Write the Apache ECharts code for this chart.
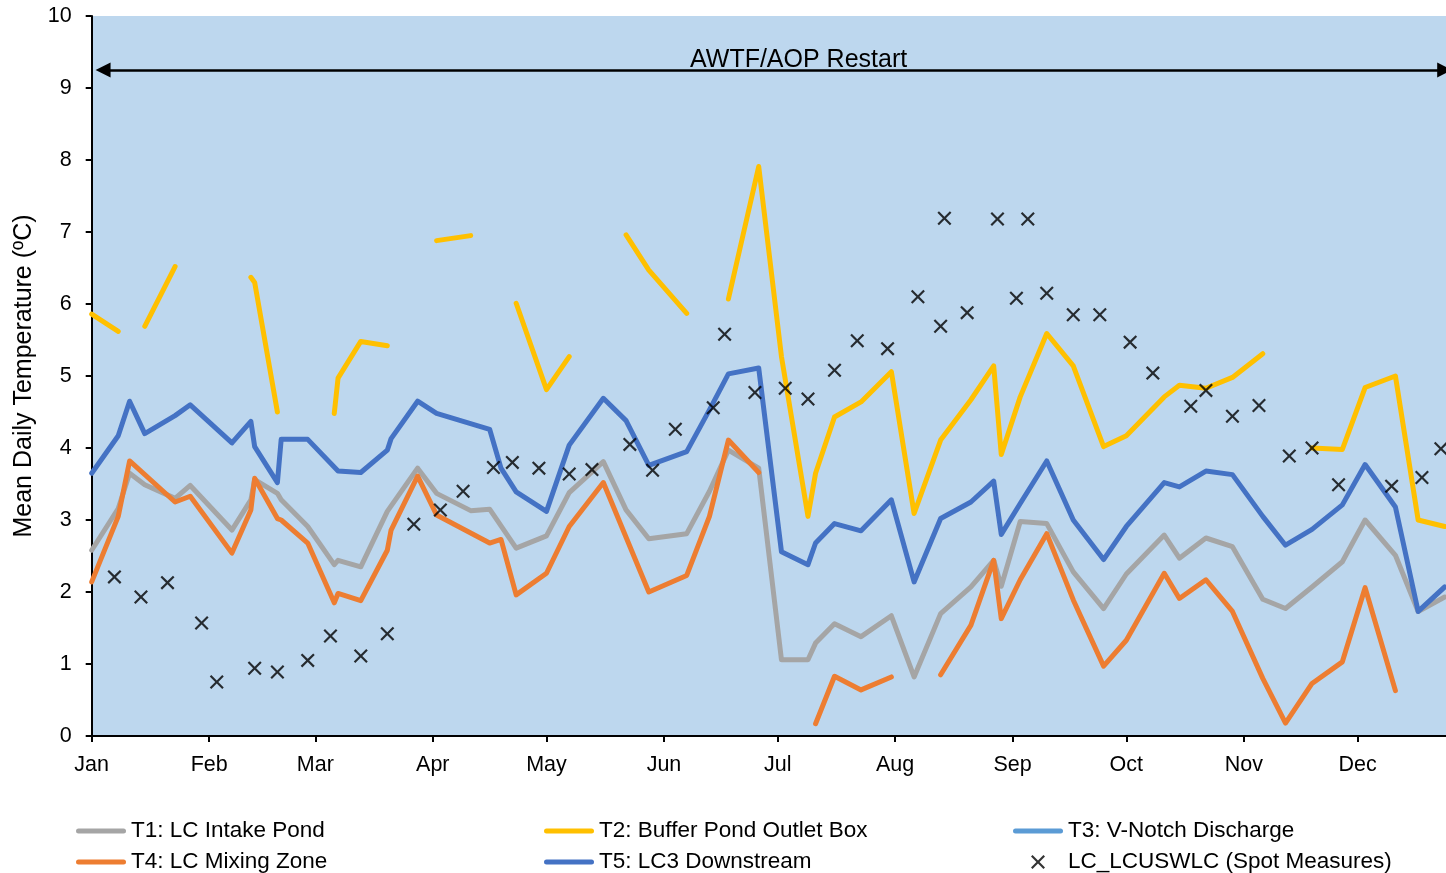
<!DOCTYPE html>
<html>
<head>
<meta charset="utf-8">
<script src="https://cdn.jsdelivr.net/npm/echarts@6/dist/echarts.min.js"></script>
<style>
  html, body { margin: 0; padding: 0; background: #ffffff; }
  #chart { width: 1446px; height: 873px; }
</style>
</head>
<body>
<div id="chart"></div>
<script>
// ---- data -----------------------------------------------------------------
const YEAR = 2022;
const monthLabels = ['Jan', 'Feb', 'Mar', 'Apr', 'May', 'Jun', 'Jul', 'Aug', 'Sep', 'Oct', 'Nov', 'Dec'];

// T1: LC Intake Pond
const t1Dates = ['01-01','01-08','01-11','01-15','01-23','01-27','02-07','02-12','02-13','02-19','02-20','02-27',
  '03-06','03-07','03-13','03-20','03-28','04-02','04-11','04-16','04-23','05-01','05-07','05-16','05-22','05-28',
  '06-07','06-13','06-18','06-26','07-02','07-09','07-11','07-16','07-23','07-31','08-06','08-13','08-21','08-27',
  '08-29','09-03','09-10','09-17','09-25','10-01','10-11','10-15','10-22','10-29','11-06','11-12','11-19','11-27',
  '12-03','12-11','12-17','12-24'];
const t1Values = [2.58, 3.16, 3.65, 3.49, 3.30, 3.48, 2.86, 3.28, 3.56, 3.37, 3.28, 2.91,
  2.38, 2.44, 2.35, 3.12, 3.72, 3.37, 3.13, 3.15, 2.61, 2.78, 3.38, 3.81, 3.14, 2.74,
  2.81, 3.40, 3.97, 3.72, 1.06, 1.06, 1.29, 1.56, 1.38, 1.67, 0.82, 1.70, 2.07, 2.44,
  2.08, 2.98, 2.95, 2.28, 1.77, 2.25, 2.79, 2.47, 2.75, 2.63, 1.90, 1.77, 2.07, 2.42,
  3.00, 2.51, 1.73, 1.93];

// T2: Buffer Pond Outlet Box (null = no reading)
const t2Dates = ['01-01','01-08','01-11','01-15','01-23','01-27','02-12','02-13','02-19','02-27','03-06','03-07',
  '03-13','03-20','03-28','04-02','04-11','04-16','04-23','05-01','05-07','05-16','05-22','05-28','06-07','06-13',
  '06-18','06-26','07-02','07-09','07-11','07-16','07-23','07-31','08-06','08-13','08-21','08-27','08-29','09-03',
  '09-10','09-17','09-25','10-01','10-11','10-15','10-22','10-29','11-06','11-12','11-19','11-27','12-03','12-11',
  '12-17','12-24'];
const t2Values = [5.86, 5.62, null, 5.69, 6.52, null, 6.37, 6.30, 4.50, null, 4.48, 4.97,
  5.48, 5.42, null, 6.88, 6.95, null, 6.01, 4.81, 5.27, null, 6.96, 6.47, 5.87, null,
  6.07, 7.91, 5.27, 3.05, 3.65, 4.43, 4.64, 5.06, 3.09, 4.11, 4.67, 5.14, 3.91, 4.71,
  5.59, 5.14, 4.02, 4.17, 4.71, 4.87, 4.83, 4.98, 5.31, null, 4.00, 3.98, 4.84, 5.00,
  3.00, 2.91];

// T3: V-Notch Discharge (no readings in this period)
const t3Dates = [];
const t3Values = [];

// T4: LC Mixing Zone (null = no reading)
const t4Dates = ['01-01','01-08','01-11','01-23','01-27','02-07','02-12','02-13','02-19','02-20','02-27','03-06',
  '03-07','03-13','03-20','03-21','03-28','04-02','04-16','04-19','04-23','05-01','05-07','05-16','05-28','06-07',
  '06-13','06-18','06-26','07-02','07-11','07-16','07-23','07-31','08-06','08-13','08-21','08-27','08-29','09-03',
  '09-10','09-17','09-25','10-01','10-11','10-15','10-22','10-29','11-06','11-12','11-19','11-27','12-03','12-11'];
const t4Values = [2.14, 3.05, 3.82, 3.25, 3.33, 2.54, 3.14, 3.58, 3.02, 3.00, 2.68, 1.85,
  1.98, 1.88, 2.58, 2.86, 3.61, 3.07, 2.68, 2.73, 1.96, 2.26, 2.91, 3.52, 2.00, 2.23,
  3.05, 4.11, 3.66, null, 0.17, 0.83, 0.64, 0.82, null, 0.85, 1.54, 2.44, 1.63, 2.17,
  2.81, 1.89, 0.97, 1.33, 2.26, 1.91, 2.17, 1.73, 0.80, 0.18, 0.73, 1.03, 2.06, 0.63];

// T5: LC3 Downstream
const t5Dates = ['01-01','01-08','01-11','01-15','01-23','01-27','02-07','02-12','02-13','02-19','02-20','02-27',
  '03-07','03-13','03-20','03-21','03-28','04-02','04-16','04-19','04-23','05-01','05-07','05-16','05-22','05-28',
  '06-07','06-13','06-18','06-26','07-02','07-09','07-11','07-16','07-23','07-31','08-06','08-13','08-21','08-27',
  '08-29','09-03','09-10','09-17','09-25','10-01','10-11','10-15','10-22','10-29','11-06','11-12','11-19','11-27',
  '12-03','12-11','12-17','12-24'];
const t5Values = [3.65, 4.17, 4.65, 4.20, 4.45, 4.60, 4.07, 4.37, 4.02, 3.52, 4.12, 4.12,
  3.68, 3.66, 3.97, 4.13, 4.65, 4.48, 4.26, 3.72, 3.39, 3.12, 4.04, 4.69, 4.38, 3.76,
  3.95, 4.53, 5.03, 5.11, 2.56, 2.38, 2.68, 2.95, 2.85, 3.28, 2.14, 3.02, 3.25, 3.54,
  2.80, 3.23, 3.82, 3.00, 2.45, 2.91, 3.52, 3.46, 3.68, 3.63, 3.05, 2.65, 2.87, 3.21,
  3.77, 3.18, 1.73, 2.07];

// LC_LCUSWLC spot measurements
const spotDates = ['01-07','01-14','01-21','01-30','02-03','02-13','02-19','02-27','03-05','03-13','03-20','03-27',
  '04-03','04-09','04-17','04-22','04-29','05-07','05-13','05-23','05-29','06-04','06-14','06-17','06-25','07-03',
  '07-09','07-16','07-22','07-30','08-07','08-13','08-14','08-20','08-28','09-02','09-05','09-10','09-17','09-24',
  '10-02','10-08','10-18','10-22','10-29','11-05','11-13','11-19','11-26','12-10','12-18','12-23'];
const spotValues = [2.21, 1.93, 2.13, 1.57, 0.75, 0.94, 0.89, 1.05, 1.39, 1.11, 1.42, 2.94,
  3.14, 3.40, 3.73, 3.80, 3.72, 3.64, 3.70, 4.05, 3.69, 4.26, 4.56, 5.58, 4.77, 4.83,
  4.68, 5.08, 5.49, 5.38, 6.10, 5.69, 7.19, 5.88, 7.18, 6.08, 7.18, 6.15, 5.85, 5.85,
  5.47, 5.04, 4.58, 4.80, 4.44, 4.59, 3.89, 4.00, 3.49, 3.47, 3.59, 3.99];

// restart annotation span
const restartStart = '01-04';
const restartEnd = '12-24';
const restartLevel = 9.25;
const restartLabelDate = '07-06';
const restartText = 'AWTF/AOP Restart';

// ---- helpers ----------------------------------------------------------------
function toTime(md) {
  const parts = md.split('-').map(Number);
  return new Date(YEAR, parts[0] - 1, parts[1]).getTime();
}
function pairs(dates, values) {
  return dates.map((d, i) => [toTime(d), values[i] == null ? '-' : values[i]]);
}

const FONT = '"Liberation Sans", Arial, Helvetica, sans-serif';
const BAR_ICON = 'path://M2.5,0H47.5A2.5,2.5,0,0,1,47.5,5H2.5A2.5,2.5,0,0,1,2.5,0Z';
const CROSS_ICON = 'path://M0,1.1L1.1,0L5,3.9L8.9,0L10,1.1L6.1,5L10,8.9L8.9,10L5,6.1L1.1,10L0,8.9L3.9,5Z';

function lineSeries(name, color, dates, values, extra) {
  return Object.assign({
    name: name,
    type: 'line',
    data: pairs(dates, values),
    symbol: 'none',
    showSymbol: false,
    connectNulls: false,
    color: color,
    lineStyle: { color: color, width: 5, cap: 'round', join: 'round' },
    emphasis: { disabled: true },
    silent: true
  }, extra || {});
}

const chart = echarts.init(document.getElementById('chart'), null, { renderer: 'canvas' });

const legendBase = {
  orient: 'vertical',
  padding: 0,
  itemGap: 5,
  itemWidth: 50,
  itemHeight: 5,
  height: 100,
  icon: BAR_ICON,
  selectedMode: false,
  itemStyle: { borderWidth: 0 },
  textStyle: { fontSize: 22.5, color: '#000', fontFamily: FONT, lineHeight: 26 }
};

const option = {
  animation: false,
  backgroundColor: '#ffffff',
  textStyle: { fontFamily: FONT },
  grid: {
    left: 91.7,
    top: 16,
    right: -29,
    bottom: 137,
    show: true,
    backgroundColor: '#BDD7EE',
    borderWidth: 0,
    containLabel: false,
    outerBoundsMode: 'none'
  },
  legend: [
    Object.assign({}, legendBase, { left: 76, top: 818, data: ['T1: LC Intake Pond', 'T4: LC Mixing Zone'] }),
    Object.assign({}, legendBase, { left: 544, top: 818, data: ['T2: Buffer Pond Outlet Box', 'T5: LC3 Downstream'] }),
    Object.assign({}, legendBase, { left: 1013, top: 818, data: ['T3: V-Notch Discharge'] }),
    // the cross icon sits centred in its 50px slot, so the box starts at the glyph
    Object.assign({}, legendBase, { left: 1031, top: 849, itemHeight: 14, icon: CROSS_ICON,
      data: ['LC_LCUSWLC (Spot Measures)'] })
  ],
  xAxis: {
    type: 'time',
    min: toTime('01-01'),
    max: new Date(YEAR + 1, 0, 1).getTime(),
    minInterval: 28 * 864e5,
    maxInterval: 31 * 864e5,
    axisLine: { show: true, lineStyle: { color: '#000', width: 2 } },
    axisTick: { show: true, inside: false, length: 6, lineStyle: { color: '#000', width: 2 } },
    axisLabel: {
      formatter: function (v) { return monthLabels[new Date(v).getMonth()]; },
      fontSize: 21.5,
      color: '#000',
      fontFamily: FONT,
      margin: 18,
      showMaxLabel: false,
      hideOverlap: false
    },
    splitLine: { show: false },
    minorTick: { show: false }
  },
  yAxis: {
    type: 'value',
    min: 0,
    max: 10,
    interval: 1,
    name: 'Mean Daily Temperature (ºC)',
    nameLocation: 'middle',
    nameGap: 54,
    nameTextStyle: { fontSize: 25, color: '#000', fontFamily: FONT },
    axisLine: { show: true, lineStyle: { color: '#000', width: 2 } },
    axisTick: { show: true, inside: false, length: 6, lineStyle: { color: '#000', width: 2 } },
    axisLabel: { fontSize: 21.5, color: '#000', fontFamily: FONT, margin: 20 },
    splitLine: { show: false }
  },
  series: [
    lineSeries('T1: LC Intake Pond', '#A5A5A5', t1Dates, t1Values, {
      markLine: {
        silent: true,
        symbol: ['triangle', 'triangle'],
        symbolSize: 15,
        lineStyle: { color: '#000', width: 2.5, type: 'solid' },
        label: { show: false },
        emphasis: { disabled: true },
        data: [[
          { coord: [toTime(restartStart), restartLevel] },
          { coord: [toTime(restartEnd), restartLevel] }
        ]]
      },
      markPoint: {
        silent: true,
        symbol: 'circle',
        symbolSize: 1,
        itemStyle: { color: 'rgba(0,0,0,0)' },
        label: {
          show: true,
          position: 'top',
          distance: 0,
          offset: [2, 3],
          formatter: restartText,
          fontSize: 25,
          color: '#000',
          fontFamily: FONT
        },
        data: [{ coord: [toTime(restartLabelDate), restartLevel] }]
      }
    }),
    lineSeries('T2: Buffer Pond Outlet Box', '#FFC000', t2Dates, t2Values),
    lineSeries('T3: V-Notch Discharge', '#5B9BD5', t3Dates, t3Values),
    lineSeries('T4: LC Mixing Zone', '#ED7D31', t4Dates, t4Values),
    lineSeries('T5: LC3 Downstream', '#4472C4', t5Dates, t5Values),
    {
      name: 'LC_LCUSWLC (Spot Measures)',
      type: 'scatter',
      data: pairs(spotDates, spotValues),
      symbol: CROSS_ICON,
      symbolSize: 14,
      color: '#000',
      itemStyle: { color: '#000' },
      emphasis: { disabled: true },
      silent: true,
      z: 5
    }
  ]
};

chart.setOption(option);
</script>
</body>
</html>
